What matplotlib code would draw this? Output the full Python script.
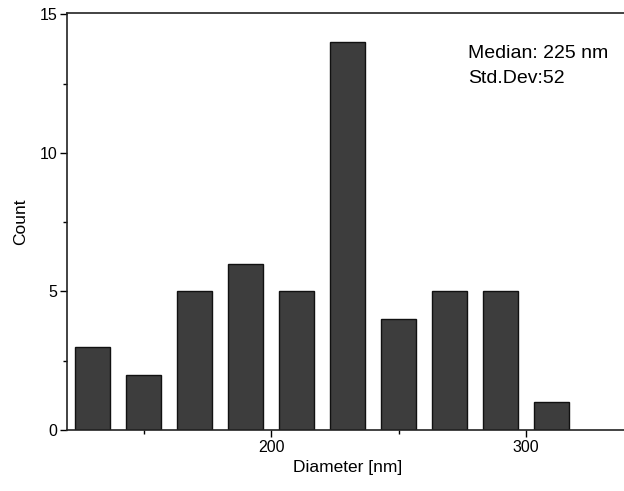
import matplotlib
matplotlib.use("Agg")
import matplotlib.pyplot as plt
from matplotlib.ticker import MultipleLocator

plt.rcParams['font.family'] = ['Liberation Sans', 'DejaVu Sans']

bin_centers = [130, 150, 170, 190, 210, 230, 250, 270, 290, 310]
counts = [3, 2, 5, 6, 5, 14, 4, 5, 5, 1]
x_ticks = [200, 300]
y_ticks = [0, 5, 10, 15]

fig = plt.figure(figsize=(6.24, 4.91), dpi=100)
ax = fig.add_axes([0.1074, 0.1242, 0.899, 0.8493])

ax.bar(bin_centers, counts, width=14, color='#3d3d3d', edgecolor='#111111', linewidth=1.0)

ax.set_xlim(120, 340)
ax.set_ylim(0, 15.05)
ax.set_xticks(x_ticks)
ax.set_yticks(y_ticks)
ax.xaxis.set_minor_locator(MultipleLocator(50))
ax.yaxis.set_minor_locator(MultipleLocator(2.5))

ax.spines['right'].set_visible(False)
for s in ['left', 'bottom', 'top']:
    ax.spines[s].set_linewidth(1.2)
    ax.spines[s].set_color('#222222')

ax.tick_params(axis='both', which='major', direction='out', length=5, width=1.0,
               labelsize=11.5, pad=2)
ax.tick_params(axis='both', which='minor', direction='out', length=3, width=1.0)

ax.set_xlabel('Diameter [nm]', fontsize=12.5, labelpad=4)
ax.set_ylabel('Count', fontsize=12.5, labelpad=8)

ax.text(0.715, 0.892, 'Median: 225 nm', transform=ax.transAxes,
        fontsize=14, va='baseline', ha='left')
ax.text(0.715, 0.832, 'Std.Dev:52', transform=ax.transAxes,
        fontsize=14, va='baseline', ha='left')

fig.savefig('out.png', dpi=100)
